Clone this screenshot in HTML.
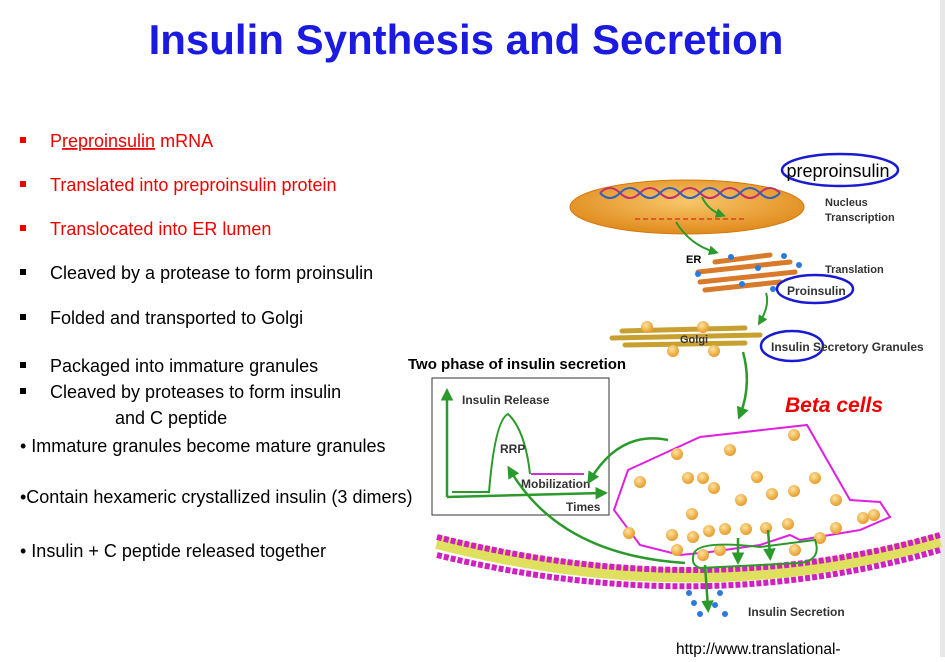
<!DOCTYPE html>
<html><head><meta charset="utf-8"><style>
body{margin:0;width:945px;height:657px;background:#fff;overflow:hidden;font-family:"Liberation Sans",Arial,sans-serif;}
</style></head><body>
<svg width="945" height="657" viewBox="0 0 945 657" xmlns="http://www.w3.org/2000/svg" font-family="Liberation Sans, Arial, sans-serif">
<defs>
<radialGradient id="nuc" cx="50%" cy="40%" r="60%"><stop offset="0" stop-color="#f7c76a"/><stop offset="1" stop-color="#e08a1c"/></radialGradient>
<radialGradient id="gr" cx="40%" cy="35%" r="60%"><stop offset="0" stop-color="#fde3a0"/><stop offset="1" stop-color="#e8a030"/></radialGradient>
<marker id="ar" viewBox="0 0 10 10" refX="6" refY="5" markerWidth="5" markerHeight="5" orient="auto"><path d="M0,0 L10,5 L0,10 z" fill="#2a9a2a"/></marker>
</defs>
<rect x="940" y="0" width="5" height="657" fill="#e8e8e8"/>
<text x="466" y="54" text-anchor="middle" font-size="42" font-weight="bold" fill="#1a1ae0">Insulin Synthesis and Secretion</text>
<g font-size="18">
<rect x="20" y="137" width="6" height="6" fill="#e00"/><text x="50" y="147" fill="#e00">P<tspan text-decoration="underline">reproinsulin</tspan> mRNA</text>
<rect x="20" y="181" width="6" height="6" fill="#e00"/><text x="50" y="191" fill="#e00">Translated into preproinsulin protein</text>
<rect x="20" y="225" width="6" height="6" fill="#e00"/><text x="50" y="235" fill="#e00">Translocated into ER lumen</text>
<rect x="20" y="269" width="6" height="6" fill="#000"/><text x="50" y="279">Cleaved by a protease to form proinsulin</text>
<rect x="20" y="314" width="6" height="6" fill="#000"/><text x="50" y="324">Folded and transported to Golgi</text>
<rect x="20" y="362" width="6" height="6" fill="#000"/><text x="50" y="372">Packaged into immature granules</text>
<rect x="20" y="388" width="6" height="6" fill="#000"/><text x="50" y="398">Cleaved by proteases to form insulin</text>
<text x="115" y="424">and C peptide</text>
<text x="20" y="452">• Immature granules become mature granules</text>
<text x="20" y="503">•Contain hexameric crystallized insulin (3 dimers)</text>
<text x="20" y="557">• Insulin + C peptide released together</text>
</g>
<!-- nucleus -->
<ellipse cx="687" cy="207" rx="117" ry="27" fill="url(#nuc)" stroke="#d07a10"/>
<path d="M600,193 q10,-10 20,0 t20,0 t20,0 t20,0 t20,0 t20,0 t20,0 t20,0 t20,0" fill="none" stroke="#c03070" stroke-width="2"/>
<path d="M600,193 q10,10 20,0 t20,0 t20,0 t20,0 t20,0 t20,0 t20,0 t20,0 t20,0" fill="none" stroke="#3060c0" stroke-width="2"/>
<line x1="635" y1="219" x2="745" y2="219" stroke="#e04020" stroke-width="1.5" stroke-dasharray="5,3"/>
<path d="M702,197 Q708,210 722,215" fill="none" stroke="#2a9a2a" stroke-width="2" marker-end="url(#ar)"/>
<path d="M676,222 Q690,245 715,252" fill="none" stroke="#2a9a2a" stroke-width="2" marker-end="url(#ar)"/>
<ellipse cx="840" cy="170" rx="58" ry="16" fill="none" stroke="#1a1ad0" stroke-width="2.5"/>
<text x="838" y="177" text-anchor="middle" font-size="18">preproinsulin</text>
<text x="825" y="206" font-size="11" font-weight="bold" fill="#333">Nucleus</text>
<text x="825" y="221" font-size="11" font-weight="bold" fill="#333">Transcription</text>
<!-- ER -->
<g stroke-width="5" stroke-linecap="round">
<line x1="698" y1="272" x2="790" y2="262" stroke="#d87a2a"/><line x1="700" y1="282" x2="795" y2="272" stroke="#d87a2a"/><line x1="705" y1="290" x2="780" y2="282" stroke="#d87a2a"/><line x1="715" y1="262" x2="770" y2="255" stroke="#d87a2a"/>
</g>
<g fill="#2a7ae0"><circle cx="731" cy="257" r="3"/><circle cx="784" cy="256" r="3"/><circle cx="799" cy="265" r="3"/><circle cx="698" cy="274" r="3"/><circle cx="758" cy="268" r="3"/><circle cx="742" cy="284" r="3"/><circle cx="773" cy="289" r="3"/></g>
<text x="686" y="263" font-size="11" font-weight="bold">ER</text>
<text x="825" y="273" font-size="11" font-weight="bold" fill="#333">Translation</text>
<ellipse cx="815" cy="289" rx="38" ry="14" fill="none" stroke="#1a1ad0" stroke-width="2.5"/>
<text x="787" y="295" font-size="12" font-weight="bold" fill="#333">Proinsulin</text>
<path d="M766,293 Q770,305 760,322" fill="none" stroke="#2a9a2a" stroke-width="2" marker-end="url(#ar)"/>
<!-- Golgi -->
<g stroke="#c8a030" stroke-width="5" stroke-linecap="round"><line x1="612" y1="338" x2="760" y2="335"/><line x1="622" y1="331" x2="745" y2="328"/><line x1="625" y1="345" x2="745" y2="343"/></g>
<g fill="url(#gr)"><circle cx="647" cy="327" r="6"/><circle cx="703" cy="327" r="6"/><circle cx="673" cy="351" r="6"/><circle cx="714" cy="351" r="6"/></g>
<text x="680" y="343" font-size="11" font-weight="bold" fill="#333">Golgi</text>
<ellipse cx="792" cy="346" rx="31" ry="15" fill="none" stroke="#1a1ad0" stroke-width="2.5"/>
<text x="771" y="351" font-size="12" font-weight="bold" fill="#333">Insulin Secretory Granules</text>
<path d="M743,352 Q752,385 740,415" fill="none" stroke="#2a9a2a" stroke-width="2.5" marker-end="url(#ar)"/>
<text x="785" y="412" font-size="21" font-weight="bold" font-style="italic" fill="#e00">Beta cells</text>
<!-- graph box -->
<text x="408" y="369" font-size="15" font-weight="bold">Two phase of insulin secretion</text>
<rect x="432" y="378" width="177" height="137" fill="none" stroke="#333"/>
<path d="M447,497 L447,393" stroke="#2a9a2a" stroke-width="2.5" fill="none" marker-end="url(#ar)"/>
<path d="M447,497 L603,493" stroke="#2a9a2a" stroke-width="2.5" fill="none" marker-end="url(#ar)"/>
<path d="M452,492 L489,492 Q495,420 508,414 Q525,430 530,474" stroke="#2a9a2a" stroke-width="2" fill="none"/>
<line x1="531" y1="474" x2="584" y2="474" stroke="#d030d0" stroke-width="2"/>
<text x="462" y="404" font-size="12" font-weight="bold" fill="#333">Insulin Release</text>
<text x="500" y="453" font-size="12" font-weight="bold" fill="#333">RRP</text>
<text x="521" y="488" font-size="12" font-weight="bold" fill="#333">Mobilization</text>
<text x="566" y="511" font-size="12" font-weight="bold" fill="#333">Times</text>
<!-- membrane -->
<path d="M437,542 Q700,610 940,540" stroke="#e0e060" stroke-width="14" fill="none"/>
<path d="M437,537 Q700,604 940,535" stroke="#d020c0" stroke-width="6" fill="none" stroke-dasharray="5,2"/>
<path d="M437,555 Q700,620 940,550" stroke="#d020c0" stroke-width="6" fill="none" stroke-dasharray="5,2"/>
<!-- cell -->
<path d="M614,510 L628,470 L700,437 L807,425 L850,500 L880,502 L890,517 L860,530 L800,540 L790,535 L760,545 L710,552 L680,555 L640,545 Z" fill="#fff" stroke="#e020e0" stroke-width="2"/>
<g fill="url(#gr)">
<circle cx="794" cy="435" r="6"/><circle cx="677" cy="454" r="6"/><circle cx="730" cy="450" r="6"/><circle cx="688" cy="478" r="6"/><circle cx="703" cy="478" r="6"/><circle cx="757" cy="477" r="6"/><circle cx="815" cy="478" r="6"/><circle cx="640" cy="482" r="6"/><circle cx="714" cy="488" r="6"/><circle cx="772" cy="494" r="6"/><circle cx="794" cy="491" r="6"/><circle cx="741" cy="500" r="6"/><circle cx="836" cy="500" r="6"/><circle cx="692" cy="514" r="6"/><circle cx="863" cy="518" r="6"/><circle cx="874" cy="515" r="6"/><circle cx="629" cy="533" r="6"/><circle cx="672" cy="535" r="6"/><circle cx="693" cy="537" r="6"/><circle cx="709" cy="531" r="6"/><circle cx="725" cy="529" r="6"/><circle cx="746" cy="529" r="6"/><circle cx="766" cy="528" r="6"/><circle cx="788" cy="524" r="6"/><circle cx="836" cy="528" r="6"/><circle cx="820" cy="538" r="6"/><circle cx="677" cy="550" r="6"/><circle cx="703" cy="555" r="6"/><circle cx="720" cy="550" r="6"/><circle cx="795" cy="550" r="6"/>
</g>
<path d="M668,440 Q620,430 590,480" stroke="#2a9a2a" stroke-width="2.5" fill="none" marker-end="url(#ar)"/>
<path d="M685,563 Q560,555 510,470" stroke="#2a9a2a" stroke-width="2.5" fill="none" marker-end="url(#ar)"/>
<path d="M694,553 Q700,540 760,547 L815,540 Q822,560 800,563 L700,568 Q690,565 694,553 Z" stroke="#2a9a2a" stroke-width="2" fill="none"/>
<path d="M738,538 L738,560" stroke="#2a9a2a" stroke-width="2.5" marker-end="url(#ar)"/>
<path d="M768,530 L770,556" stroke="#2a9a2a" stroke-width="2.5" marker-end="url(#ar)"/>
<path d="M705,565 L708,608" stroke="#2a9a2a" stroke-width="2.5" marker-end="url(#ar)"/>
<g fill="#2a7ae0"><circle cx="689" cy="593" r="3"/><circle cx="720" cy="593" r="3"/><circle cx="694" cy="603" r="3"/><circle cx="715" cy="605" r="3"/><circle cx="700" cy="614" r="3"/><circle cx="725" cy="614" r="3"/></g>
<text x="748" y="616" font-size="12" font-weight="bold" fill="#333">Insulin Secretion</text>
<text x="676" y="654" font-size="15.5">http://www.translational-</text>
</svg>
</body></html>
